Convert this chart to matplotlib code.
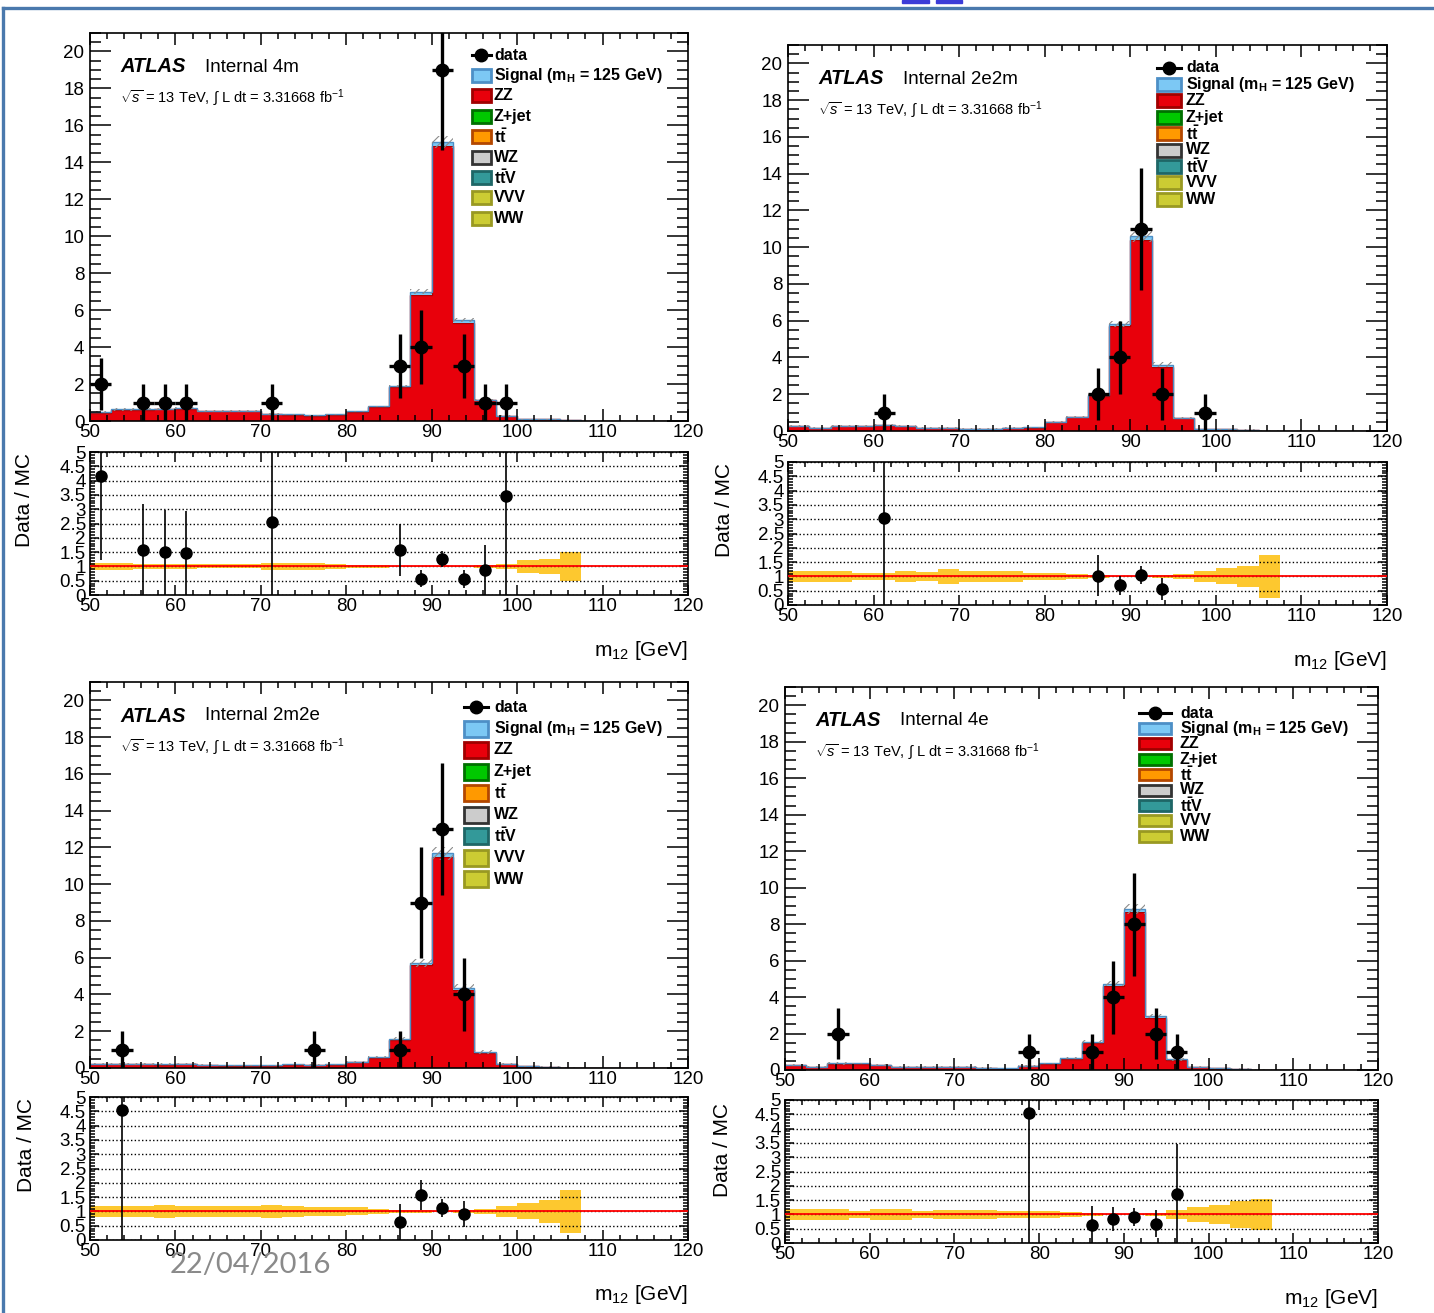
import numpy as np
import matplotlib
matplotlib.use('Agg')
import matplotlib.pyplot as plt
from matplotlib.ticker import MultipleLocator, FuncFormatter
from matplotlib.patches import Rectangle
from matplotlib.lines import Line2D

plt.rcParams['font.family'] = ['Liberation Sans', 'DejaVu Sans']
plt.rcParams['mathtext.fontset'] = 'custom'
plt.rcParams['mathtext.rm'] = 'Liberation Sans'
plt.rcParams['mathtext.it'] = 'Liberation Sans:italic'
plt.rcParams['mathtext.bf'] = 'Liberation Sans:bold'
plt.rcParams['hatch.linewidth'] = 0.8

# binning m12: 50-120 GeV, 2.5 GeV bins
bin_edges = np.linspace(50, 120, 29)

# ---- 4m ----
zz_4m = [0.45, 0.60, 0.60, 0.64, 0.65, 0.52, 0.52, 0.52, 0.36, 0.33, 0.27, 0.34, 0.48, 0.75,
         1.81, 6.83, 14.87, 5.31, 1.10, 0.26, 0.08, 0.08, 0.02, 0.0, 0.0, 0.0, 0.0, 0.0]
sig_4m = [0.02, 0.02, 0.02, 0.02, 0.02, 0.02, 0.02, 0.02, 0.02, 0.02, 0.02, 0.02, 0.03, 0.04,
          0.08, 0.16, 0.22, 0.13, 0.04, 0.02, 0.01, 0.01, 0.0, 0.0, 0.0, 0.0, 0.0, 0.0]
data_4m = [2, 0, 1, 1, 1, 0, 0, 0, 1, 0, 0, 0, 0, 0, 3, 4, 19, 3, 1, 1, 0, 0, 0, 0, 0, 0, 0, 0]
unc_4m = [0.13, 0.13, 0.09, 0.08, 0.08, 0.07, 0.07, 0.07, 0.11, 0.11, 0.11, 0.08, 0.06, 0.04,
          0.03, 0.02, 0.02, 0.02, 0.04, 0.10, 0.22, 0.27, 0.52, 0.0, 0.0, 0.0, 0.0, 0.0]

# ---- 2e2m ----
zz_2e2m = [0.24, 0.15, 0.24, 0.24, 0.30, 0.24, 0.15, 0.15, 0.10, 0.10, 0.15, 0.17, 0.46, 0.73,
           1.87, 5.68, 10.39, 3.49, 0.68, 0.08, 0.08, 0.06, 0.01, 0.0, 0.0, 0.0, 0.0, 0.0]
sig_2e2m = [0.02, 0.02, 0.02, 0.02, 0.02, 0.02, 0.02, 0.02, 0.02, 0.02, 0.02, 0.02, 0.03, 0.04,
            0.07, 0.14, 0.20, 0.10, 0.03, 0.01, 0.01, 0.01, 0.0, 0.0, 0.0, 0.0, 0.0, 0.0]
data_2e2m = [0, 0, 0, 0, 1, 0, 0, 0, 0, 0, 0, 0, 0, 0, 2, 4, 11, 2, 0, 1, 0, 0, 0, 0, 0, 0, 0, 0]
unc_2e2m = [0.20, 0.20, 0.20, 0.13, 0.13, 0.19, 0.15, 0.25, 0.19, 0.19, 0.19, 0.13, 0.13, 0.08,
            0.05, 0.03, 0.03, 0.04, 0.09, 0.18, 0.28, 0.36, 0.76, 0.0, 0.0, 0.0, 0.0, 0.0]

# ---- 2m2e ----
zz_2m2e = [0.21, 0.19, 0.19, 0.17, 0.21, 0.15, 0.12, 0.12, 0.12, 0.17, 0.16, 0.17, 0.29, 0.55,
           1.52, 5.57, 11.45, 4.23, 0.83, 0.20, 0.08, 0.06, 0.01, 0.0, 0.0, 0.0, 0.0, 0.0]
sig_2m2e = [0.02, 0.02, 0.02, 0.02, 0.02, 0.02, 0.02, 0.02, 0.02, 0.02, 0.02, 0.02, 0.03, 0.04,
            0.07, 0.14, 0.22, 0.12, 0.03, 0.01, 0.01, 0.01, 0.0, 0.0, 0.0, 0.0, 0.0, 0.0]
data_2m2e = [0, 1, 0, 0, 0, 0, 0, 0, 0, 0, 1, 0, 0, 0, 1, 9, 13, 4, 0, 0, 0, 0, 0, 0, 0, 0, 0, 0]
unc_2m2e = [0.19, 0.19, 0.19, 0.23, 0.19, 0.19, 0.19, 0.19, 0.23, 0.19, 0.17, 0.17, 0.14, 0.10,
            0.06, 0.04, 0.03, 0.05, 0.10, 0.20, 0.28, 0.40, 0.76, 0.0, 0.0, 0.0, 0.0, 0.0]

# ---- 4e ----
zz_4e = [0.24, 0.15, 0.33, 0.33, 0.24, 0.15, 0.15, 0.15, 0.15, 0.10, 0.07, 0.19, 0.32, 0.62,
         1.48, 4.60, 8.63, 2.85, 0.54, 0.16, 0.08, 0.06, 0.01, 0.0, 0.0, 0.0, 0.0, 0.0]
sig_4e = [0.02, 0.02, 0.02, 0.02, 0.02, 0.02, 0.02, 0.02, 0.02, 0.02, 0.02, 0.02, 0.03, 0.04,
          0.06, 0.12, 0.18, 0.09, 0.03, 0.01, 0.01, 0.01, 0.0, 0.0, 0.0, 0.0, 0.0, 0.0]
data_4e = [0, 0, 2, 0, 0, 0, 0, 0, 0, 0, 0, 1, 0, 0, 1, 4, 8, 2, 1, 0, 0, 0, 0, 0, 0, 0, 0, 0]
unc_4e = [0.18, 0.18, 0.18, 0.13, 0.18, 0.18, 0.13, 0.17, 0.17, 0.17, 0.13, 0.13, 0.13, 0.08,
          0.05, 0.03, 0.03, 0.04, 0.15, 0.25, 0.33, 0.48, 0.55, 0.0, 0.0, 0.0, 0.0, 0.0]

# other backgrounds (tiny, only visible as a line at the bottom)
ww_small = [0.01, 0.01, 0.01, 0.01, 0.01, 0.01, 0.01, 0.01, 0.01, 0.01, 0.01, 0.01, 0.01, 0.01,
            0.01, 0.01, 0.01, 0.01, 0.01, 0.01, 0.01, 0.01, 0.01, 0.01, 0.01, 0.01, 0.01, 0.01]

legend_labels = ['data', r'Signal (m$_{\mathbf{H}}$ = 125 GeV)', 'ZZ', 'Z+jet', r'$\mathbf{t\bar{t}}$',
                 'WZ', r'$\mathbf{t\bar{t}}$V', 'VVV', 'WW']
legend_colors = [None, ('#7cc8f4', '#4d8fc6'), ('#e8000b', '#a00000'), ('#00c800', '#007000'),
                 ('#ff9900', '#b34700'), ('#cccccc', '#333333'), ('#339999', '#1e6666'),
                 ('#cccc33', '#999922'), ('#cccc33', '#999922')]

W, H = 1434, 1313
fig = plt.figure(figsize=(W / 100, H / 100), dpi=100)


def add_ax(box):
    x0, y0, x1, y1 = box
    return fig.add_axes([x0 / W, 1 - y1 / H, (x1 - x0) / W, (y1 - y0) / H])


def ftext(x, y, s, **kw):
    fig.text(x / W, 1 - y / H, s, **kw)


panels = [
    dict(name='4m', zz=zz_4m, sig=sig_4m, data=data_4m, unc=unc_4m,
         main=(90, 33, 688, 421), ratio=(90, 452, 688, 595),
         leg=dict(bx=472, bw=19, bh=13, tx=494, y=55, dy=20.4), ylab=(25, 500)),
    dict(name='2e2m', zz=zz_2e2m, sig=sig_2e2m, data=data_2e2m, unc=unc_2e2m,
         main=(788, 45, 1387, 431), ratio=(788, 462, 1387, 605),
         leg=dict(bx=1157, bw=24, bh=13, tx=1186, y=68, dy=16.4), ylab=(725, 510)),
    dict(name='2m2e', zz=zz_2m2e, sig=sig_2m2e, data=data_2m2e, unc=unc_2m2e,
         main=(90, 682, 688, 1068), ratio=(90, 1097, 688, 1240),
         leg=dict(bx=464, bw=24, bh=16, tx=494, y=707, dy=21.5), ylab=(27, 1145)),
    dict(name='4e', zz=zz_4e, sig=sig_4e, data=data_4e, unc=unc_4e,
         main=(785, 687, 1378, 1070), ratio=(785, 1100, 1378, 1243),
         leg=dict(bx=1139, bw=32, bh=11, tx=1180, y=713, dy=15.4), ylab=(723, 1150)),
]

centers = 0.5 * (bin_edges[1:] + bin_edges[:-1])
half_w = np.diff(bin_edges) / 2
PX = 0.72  # points per pixel

for p in panels:
    zz = np.array(p['zz'])
    sig = np.array(p['sig'])
    ww = np.array(ww_small)
    data = np.array(p['data'], dtype=float)
    unc = np.array(p['unc'])
    total = ww + zz + sig

    # --- main panel ---
    ax = add_ax(p['main'])
    ax.stairs(ww, bin_edges, baseline=0, fill=True, facecolor='#cccc33', edgecolor='none')
    ax.stairs(ww, bin_edges, baseline=None, color='#999922', lw=1.0)
    ax.stairs(ww + zz, bin_edges, baseline=ww, fill=True, facecolor='#e8000b', edgecolor='none')
    ax.stairs(ww + zz, bin_edges, baseline=None, color='#b00000', lw=1.0)
    ax.stairs(total, bin_edges, baseline=ww + zz, fill=True, facecolor='#7cc8f4', edgecolor='none')
    ax.stairs(total, bin_edges, baseline=None, color='#4d8fc6', lw=1.0)
    ax.stairs(total * (1 + unc), bin_edges, baseline=total * (1 - unc), fill=True,
              facecolor='none', edgecolor='#8c8c8c', hatch='////', lw=0)
    m = data > 0
    ax.errorbar(centers[m], data[m], yerr=np.sqrt(data[m]), xerr=half_w[m], fmt='o',
                color='black', ms=9, elinewidth=2.4, capsize=0, zorder=5)

    ax.set_xlim(50, 120)
    ax.set_ylim(0, 21)
    ax.xaxis.set_major_locator(MultipleLocator(10))
    ax.xaxis.set_minor_locator(MultipleLocator(2))
    ax.yaxis.set_major_locator(MultipleLocator(2))
    ax.yaxis.set_minor_locator(MultipleLocator(0.5))
    ax.tick_params(which='both', direction='in', top=True, right=True, labelsize=13.5, width=1.1)
    ax.tick_params(axis='y', which='major', length=21 * PX, pad=4)
    ax.tick_params(axis='y', which='minor', length=11 * PX)
    ax.tick_params(axis='x', which='major', length=12 * PX, pad=2)
    ax.tick_params(axis='x', which='minor', length=6 * PX)
    for s in ax.spines.values():
        s.set_linewidth(1.2)

    x0, y0 = p['main'][0], p['main'][1]
    ftext(x0 + 30, y0 + 34, 'ATLAS', fontsize=14.5, fontweight='bold', fontstyle='italic', va='center')
    ftext(x0 + 115, y0 + 34, 'Internal ' + p['name'], fontsize=13.5, va='center')
    ftext(x0 + 30, y0 + 65, r'$\sqrt{s}$ = 13 TeV, $\int$ L dt = 3.31668 fb$^{-1}$',
          fontsize=10.5, va='center')

    # legend
    lg = p['leg']
    for i, (lab, col) in enumerate(zip(legend_labels, legend_colors)):
        yy = lg['y'] + i * lg['dy']
        if col is None:
            fig.add_artist(Line2D([lg['bx'] / W, (lg['bx'] + lg['bw']) / W], [1 - yy / H, 1 - yy / H],
                                  color='black', lw=2.2, transform=fig.transFigure))
            fig.add_artist(Line2D([(lg['bx'] + lg['bw'] / 2) / W], [1 - yy / H], marker='o', ms=9,
                                  color='black', transform=fig.transFigure))
        else:
            fig.add_artist(Rectangle((lg['bx'] / W, 1 - (yy + lg['bh'] / 2) / H), lg['bw'] / W, lg['bh'] / H,
                                     facecolor=col[0], edgecolor=col[1], lw=2.0,
                                     transform=fig.transFigure))
        ftext(lg['tx'], yy, lab, fontsize=11.5, fontweight='bold', va='center')

    # --- ratio panel ---
    ar = add_ax(p['ratio'])
    ar.stairs(1 + unc, bin_edges, baseline=1 - unc, fill=True, facecolor='#fdc82f', edgecolor='none')
    ar.axhline(1, color='#ff0000', lw=1.3, zorder=3)
    ratio = np.zeros_like(data)
    rerr = np.zeros_like(data)
    ok = (data > 0) & (total > 0)
    ratio[ok] = data[ok] / total[ok]
    rerr[ok] = np.sqrt(data[ok]) / total[ok]
    show = ok & (ratio <= 5)
    ar.errorbar(centers[show], ratio[show], yerr=rerr[show], fmt='o', color='black', ms=8,
                elinewidth=1.2, capsize=0, zorder=5)
    ar.set_xlim(50, 120)
    ar.set_ylim(0, 5)
    ar.xaxis.set_major_locator(MultipleLocator(10))
    ar.xaxis.set_minor_locator(MultipleLocator(2))
    ar.yaxis.set_major_locator(MultipleLocator(0.5))
    ar.yaxis.set_minor_locator(MultipleLocator(0.1))
    ar.yaxis.set_major_formatter(FuncFormatter(lambda v, pos: f'{v:g}'))
    ar.grid(axis='y', which='major', linestyle=':', color='black', lw=1.0)
    ar.tick_params(which='both', direction='in', top=True, right=True, labelsize=13.5, width=1.1)
    ar.tick_params(axis='y', which='major', length=9 * PX, pad=3)
    ar.tick_params(axis='y', which='minor', length=5 * PX)
    ar.tick_params(axis='x', which='major', length=10 * PX, pad=2)
    ar.tick_params(axis='x', which='minor', length=5 * PX)
    for s in ar.spines.values():
        s.set_linewidth(1.2)

    x1r, y1r = p['ratio'][2], p['ratio'][3]
    ftext(x1r, y1r + 55, r'm$_{12}$ [GeV]', fontsize=15, ha='right', va='center')
    ftext(p['ylab'][0], p['ylab'][1], 'Data / MC', fontsize=15, rotation=90, ha='center', va='center')

# date stamp
ftext(170, 1265, '22/04/2016', fontsize=21, color='#8a8a8a', family=['Lato', 'DejaVu Sans'],
      va='center', ha='left')

# slide frame
fig.add_artist(Line2D([3 / W, 1], [1 - 8 / H, 1 - 8 / H], color='#4a79ad', lw=2.4,
                      transform=fig.transFigure))
fig.add_artist(Line2D([3 / W, 3 / W], [1 - 8 / H, 0], color='#4a79ad', lw=2.4,
                      transform=fig.transFigure))
fig.add_artist(Rectangle((902 / W, 1 - 3 / H), 27 / W, 3 / H, color='#3c3cd8', transform=fig.transFigure))
fig.add_artist(Rectangle((936 / W, 1 - 3 / H), 26 / W, 3 / H, color='#3c3cd8', transform=fig.transFigure))

fig.savefig('out.png', dpi=100)
